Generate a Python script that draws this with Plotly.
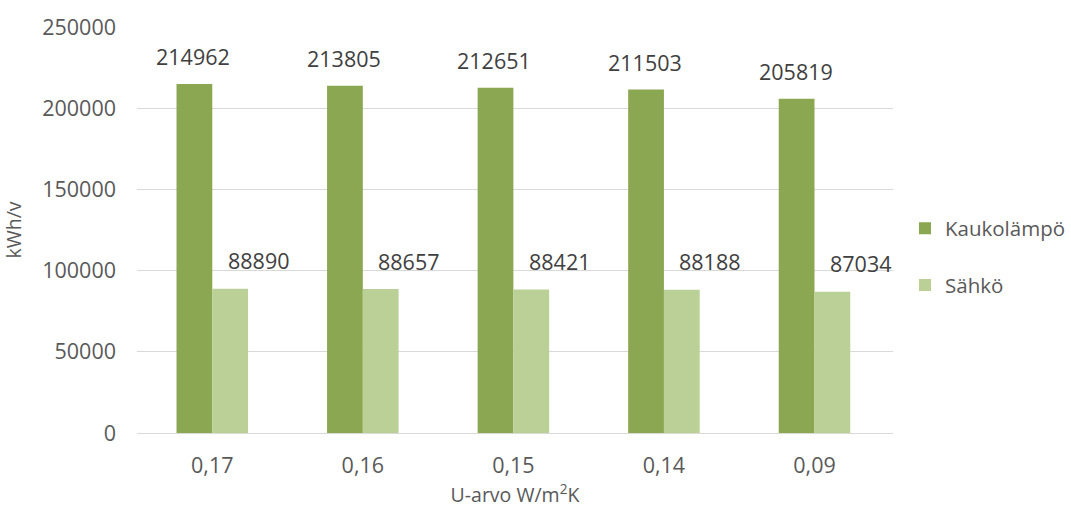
import plotly.graph_objects as go

categories = ["0,17", "0,16", "0,15", "0,14", "0,09"]
kaukolampo = [214962, 213805, 212651, 211503, 205819]
sahko = [88890, 88657, 88421, 88188, 87034]
y_ticks = [0, 50000, 100000, 150000, 200000, 250000]

FONT = "Open Sans"
AXIS_TEXT = "#595959"
LABEL_TEXT = "#404040"
GRID = "#D9D9D9"
SIZE = 21.5

fig = go.Figure()
fig.add_trace(go.Bar(
    name="Kaukolämpö", x=categories, y=kaukolampo,
    marker=dict(color="#8BA751", line=dict(width=0)),
    legendgroup="a",
))
fig.add_trace(go.Bar(
    name="Sähkö", x=categories, y=sahko,
    marker=dict(color="#BBD097", line=dict(width=0)),
    legendgroup="b",
))

# value labels placed above each bar
annotations = []
for cat, v in zip(categories, kaukolampo):
    annotations.append(dict(
        x=cat, y=v, xref="x", yref="y", text=str(v), showarrow=False,
        xshift=-19, yshift=27, yanchor="middle",
        font=dict(family=FONT, size=SIZE, color=LABEL_TEXT),
    ))
for cat, v in zip(categories, sahko):
    annotations.append(dict(
        x=cat, y=v, xref="x", yref="y", text=str(v), showarrow=False,
        xshift=46, yshift=28, yanchor="middle",
        font=dict(family=FONT, size=SIZE, color=LABEL_TEXT),
    ))

fig.update_layout(
    width=1071, height=514,
    margin=dict(l=137, r=177, t=24, b=81),
    paper_bgcolor="white", plot_bgcolor="white",
    barmode="group", bargap=0.525, bargroupgap=0,
    font=dict(family=FONT, size=SIZE, color=AXIS_TEXT),
    annotations=annotations,
    showlegend=True,
    legend=dict(
        xref="container", yref="container",
        x=0.845, y=0.5, xanchor="left", yanchor="middle",
        font=dict(family=FONT, size=20.5, color=AXIS_TEXT),
        tracegroupgap=27, itemwidth=30,
    ),
    xaxis=dict(
        showgrid=False, showline=True, linecolor=GRID, linewidth=1,
        ticks="", tickfont=dict(size=SIZE, color=AXIS_TEXT), ticklabelstandoff=13,
        title=dict(text="U-arvo W/m<sup>2</sup>K", font=dict(size=19.5, color=AXIS_TEXT), standoff=7),
    ),
    yaxis=dict(
        range=[0, 250000], tickvals=y_ticks, ticktext=[str(v) for v in y_ticks],
        showgrid=True, gridcolor=GRID, gridwidth=1, zeroline=False,
        ticks="", tickfont=dict(size=SIZE, color=AXIS_TEXT), ticklabelstandoff=20,
        title=dict(text="kWh/v", font=dict(size=19.5, color=AXIS_TEXT), standoff=15),
    ),
)

fig.write_html("out.html")
